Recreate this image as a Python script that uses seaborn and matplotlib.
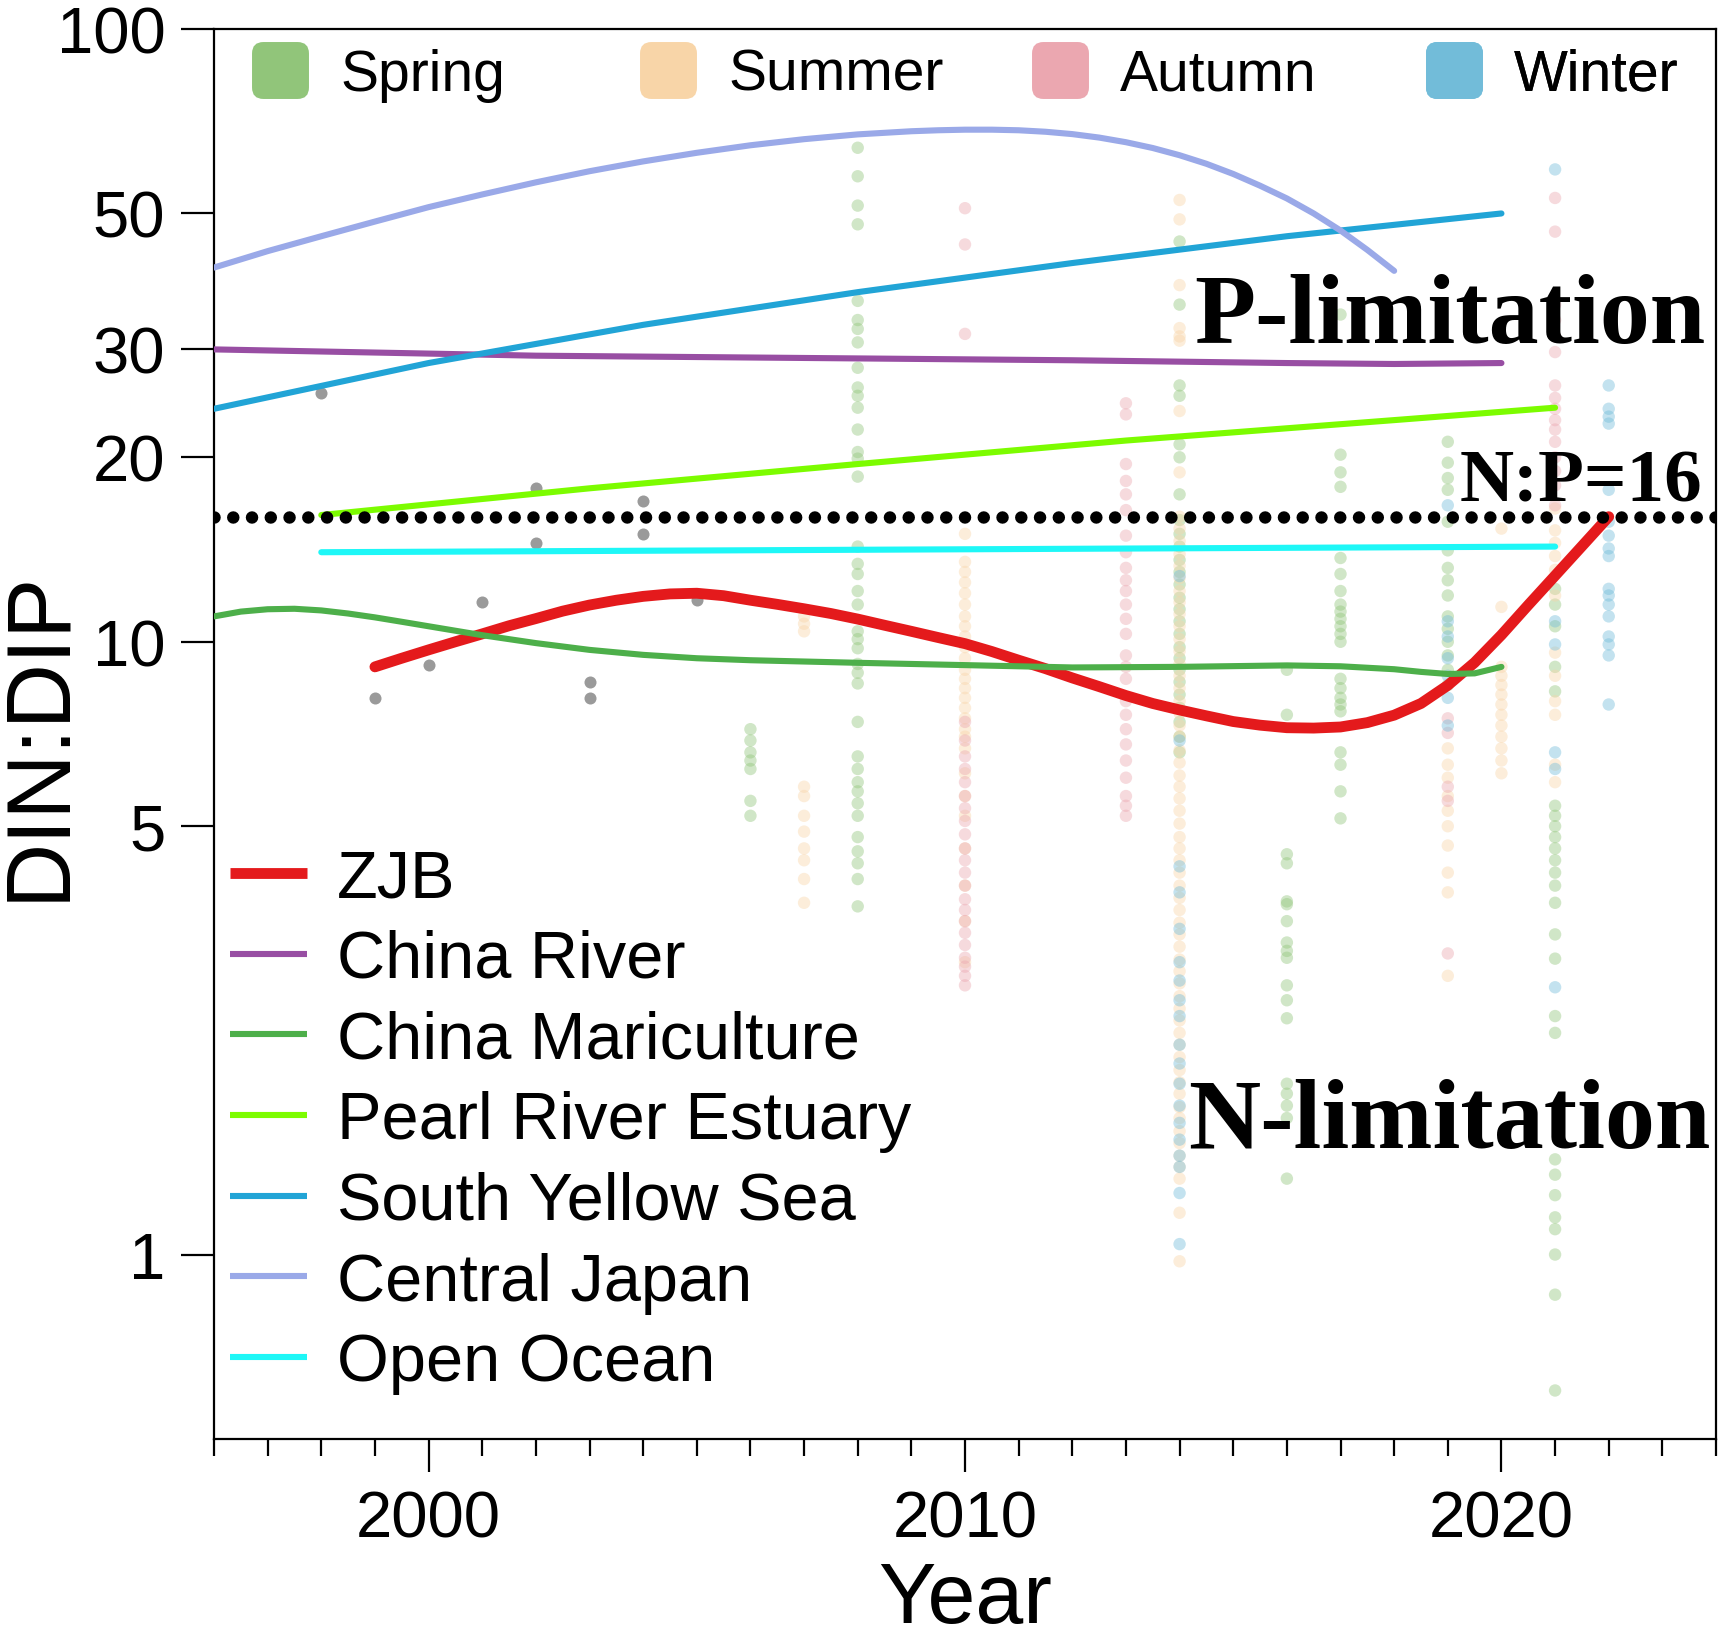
import numpy as np
import pandas as pd
import matplotlib
matplotlib.use("Agg")
import matplotlib.pyplot as plt
import seaborn as sns
from matplotlib.lines import Line2D
from matplotlib.patches import FancyBboxPatch
from matplotlib.ticker import NullLocator

# ---------------- data ----------------
seasons = ["Spring", "Summer", "Autumn", "Winter"]
season_colors = ["#91c57a", "#f8d5a8", "#eba7b0", "#72bcd9"]

spring_pts = {
    2006: [7.2, 6.9, 6.6, 6.4, 6.2, 5.5, 5.2],
    2008: [64, 57.5, 51.5, 48, 36, 33.5, 32.4, 30.8, 28, 26, 25.2, 24.1, 22.2, 20.4, 19.9, 18.6,
           14.3, 13.4, 12.9, 12.1, 11.5, 10.4, 10.1, 9.76, 9.2, 8.9, 8.55, 7.4, 6.5, 6.2, 5.9,
           5.7, 5.45, 5.2, 4.8, 4.55, 4.35, 4.1, 3.7],
    2014: [45, 35.5, 26.2, 25.2, 21, 20, 17.4, 15.8, 15.0, 14.3, 13.6, 13.0, 12.4, 11.8, 11.3,
           10.8, 10.3, 9.8, 9.4, 9.0, 8.6, 8.2, 7.8, 7.4, 7.0, 6.6],
    2016: [9.0, 7.6, 4.5, 4.35, 3.77, 3.73, 3.5, 3.23, 3.13, 3.05, 2.75, 2.6, 2.43, 1.9, 1.83,
           1.75, 1.67, 1.33],
    2017: [34.2, 20.2, 18.9, 17.9, 13.7, 12.9, 12.1, 11.5, 11.2, 10.9, 10.6, 10.3, 10.0, 8.7,
           8.4, 8.1, 7.9, 7.7, 6.6, 6.3, 5.7, 5.15],
    2019: [21.2, 19.6, 18.5, 17.7, 15.7, 14.1, 13.2, 12.6, 11.9, 11.0, 10.5, 10.0, 9.5, 9.0, 8.5],
    2021: [12.2, 11.5, 10.6, 9.1, 8.3, 5.4, 5.2, 5.0, 4.8, 4.6, 4.4, 4.2, 4.0, 3.75, 3.33, 3.04,
           2.45, 2.3, 1.43, 1.35, 1.25, 1.15, 1.1, 1.0, 0.86, 0.6],
}
summer_pts = {
    2007: [11.0, 10.7, 10.4, 5.8, 5.6, 5.2, 4.9, 4.6, 4.4, 4.1, 3.75],
    2010: [15.0, 13.5, 13.0, 12.5, 12.0, 11.5, 11.0, 10.6, 10.2, 9.8, 9.4, 9.0, 8.7, 8.4, 8.1,
           7.8, 7.5, 7.2, 7.0, 6.7, 6.1, 5.6, 5.2, 4.6, 4.0, 3.5, 3.0],
    2014: [52.6, 48.9, 38.2, 32.5, 31.5, 31.0, 23.8, 18.9, 16.0, 15.3, 14.6, 13.9, 13.3, 12.7,
           12.1, 11.6, 11.1, 10.6, 10.1, 9.65, 9.2, 8.8, 8.4, 8.0, 7.65, 7.3, 7.0, 6.65, 6.35,
           6.05, 5.8, 5.55, 5.3, 5.05, 4.8, 4.6, 4.4, 4.2, 4.0, 3.82, 3.65, 3.48, 3.33, 3.18,
           3.03, 2.9, 2.77, 2.64, 2.52, 2.41, 2.3, 2.2, 2.1, 2.0, 1.91, 1.83, 1.74, 1.67, 1.59,
           1.52, 1.45, 1.39, 1.33, 1.17, 0.975],
    2019: [6.7, 6.3, 6.0, 5.6, 5.3, 5.0, 4.65, 4.2, 3.9, 2.85],
    2020: [15.3, 11.4, 9.1, 8.8, 8.5, 8.2, 7.9, 7.6, 7.3, 7.0, 6.7, 6.4, 6.1],
    2021: [16.5, 15.2, 14.5, 13.8, 13.1, 11.9, 9.6, 8.8, 8.0, 7.6, 6.3, 5.9],
}
autumn_pts = {
    2010: [51, 44.5, 31.8, 7.4, 6.9, 6.5, 6.2, 5.9, 5.6, 5.35, 5.1, 4.85, 4.6, 4.4, 4.2, 4.0,
           3.8, 3.65, 3.5, 3.35, 3.2, 3.05, 2.95, 2.85, 2.75],
    2013: [24.5, 23.5, 19.5, 18.3, 17.4, 16.4, 14.9, 14.0, 13.2, 12.6, 12.1, 11.5, 10.9, 10.3,
           9.5, 9.1, 8.7, 8.0, 7.6, 7.2, 6.8, 6.4, 6.0, 5.6, 5.4, 5.2],
    2019: [7.5, 7.1, 5.8, 5.5, 3.1],
    2021: [53, 46.7, 35.5, 33.5, 31.5, 29.7, 26.2, 25.0, 24.0, 23.0, 22.2, 21.2, 20.0, 19.0,
           18.0, 16.7],
}
winter_pts = {
    2014: [12.8, 6.9, 4.3, 3.9, 3.4, 3.0, 2.8, 2.6, 2.45, 2.2, 2.05, 1.9, 1.75, 1.64, 1.54,
           1.45, 1.39, 1.26, 1.04],
    2019: [16.7, 10.8, 10.2, 9.4, 8.8, 8.1, 7.3],
    2021: [59, 10.8, 9.9, 6.6, 6.2, 2.73],
    2022: [26.2, 24, 23.3, 22.7, 17.7, 15.7, 14.9, 14.2, 13.8, 12.2, 11.9, 11.5, 11.0, 10.2,
           9.9, 9.5, 7.9],
}

zjb_obs_year = [1998, 1999, 2000, 2001, 2002, 2002, 2003, 2003, 2004, 2004, 2005]
zjb_obs_val = [25.5, 8.1, 9.15, 11.6, 17.8, 14.5, 8.6, 8.1, 17.0, 15.0, 11.7]

zjb_year = [1999, 1999.5, 2000, 2000.5, 2001, 2001.5, 2002, 2002.5, 2003, 2003.5, 2004, 2004.5,
            2005, 2005.5, 2006, 2006.5, 2007, 2007.5, 2008, 2008.5, 2009, 2009.5, 2010, 2010.5,
            2011, 2011.5, 2012, 2012.5, 2013, 2013.5, 2014, 2014.5, 2015, 2015.5, 2016, 2016.5,
            2017, 2017.5, 2018, 2018.5, 2019, 2019.5, 2020, 2020.5, 2021, 2021.5, 2022]
zjb_val = [9.10, 9.40, 9.70, 10.0, 10.3, 10.62, 10.91, 11.22, 11.48, 11.69, 11.86, 11.97,
           12.0, 11.89, 11.69, 11.51, 11.32, 11.12, 10.89, 10.64, 10.40, 10.16, 9.93, 9.64,
           9.33, 9.04, 8.73, 8.45, 8.17, 7.93, 7.74, 7.57, 7.41, 7.31, 7.24, 7.23,
           7.26, 7.38, 7.59, 7.93, 8.49, 9.25, 10.26, 11.48, 12.82, 14.32, 16.0]

river_year = [1996, 2002, 2008, 2012, 2016, 2018, 2020]
river_val = [30.0, 29.3, 29.0, 28.8, 28.5, 28.4, 28.5]

mari_year = [1996, 1996.5, 1997, 1997.5, 1998, 1998.5, 1999, 1999.5, 2000, 2001, 2002, 2003,
             2004, 2005, 2006, 2008, 2010, 2012, 2014, 2016, 2017, 2018, 2018.5, 2019, 2019.5,
             2020]
mari_val = [11.0, 11.2, 11.3, 11.32, 11.25, 11.12, 10.96, 10.78, 10.6, 10.25, 9.95, 9.7,
            9.52, 9.4, 9.33, 9.24, 9.16, 9.08, 9.1, 9.15, 9.12, 9.02, 8.93, 8.86, 8.88, 9.1]

pearl_year = [1998, 2003, 2008, 2013, 2018, 2021]
pearl_val = [16.1, 17.8, 19.5, 21.3, 23.0, 24.1]

sys_year = [1996, 2000, 2004, 2008, 2012, 2016, 2020]
sys_val = [24.0, 28.5, 32.9, 37.2, 41.5, 45.9, 50.0]

japan_year = [1996, 1997, 1998, 1999, 2000, 2001, 2002, 2003, 2004, 2005, 2006, 2007, 2008,
              2009, 2009.5, 2010, 2010.5, 2011, 2011.5, 2012, 2012.5, 2013, 2013.5, 2014,
              2014.5, 2015, 2015.5, 2016, 2016.5, 2017, 2017.5, 2018]
japan_val = [40.8, 43.4, 45.9, 48.5, 51.2, 53.7, 56.2, 58.6, 60.8, 62.8, 64.6, 66.1, 67.3,
             68.1, 68.35, 68.5, 68.5, 68.35, 67.97, 67.37, 66.5, 65.35, 63.94, 62.23,
             60.26, 58.0, 55.5, 52.9, 50.0, 46.9, 43.6, 40.3]

ocean_year = [1998, 2021]
ocean_val = [14.0, 14.3]

series_names = ["ZJB", "China River", "China Mariculture", "Pearl River Estuary",
                "South Yellow Sea", "Central Japan", "Open Ocean"]
series_colors = ["#e41a1c", "#984ea3", "#4daf4a", "#7cfc00", "#21a4d6", "#9aa9e8", "#1ef7f7"]
series_widths = [7.8, 4.4, 4.4, 4.4, 4.4, 4.4, 4.4]

y_ticks = [1, 5, 10, 20, 30, 50, 100]
x_major = [2000, 2010, 2020]

# ---------------- build tables ----------------
rows = []
for sname, d in zip(seasons, [spring_pts, summer_pts, autumn_pts, winter_pts]):
    for yr, vals in d.items():
        for v in vals:
            rows.append((yr, v, sname))
pts = pd.DataFrame(rows, columns=["Year", "Ratio", "Season"])

series_data = [(zjb_year, zjb_val), (river_year, river_val), (mari_year, mari_val),
               (pearl_year, pearl_val), (sys_year, sys_val), (japan_year, japan_val),
               (ocean_year, ocean_val)]

# ---------------- plot ----------------
sns.set_theme(style="ticks")
plt.rcParams['font.family'] = ['Liberation Sans', 'DejaVu Sans']
plt.rcParams['text.color'] = 'black'
plt.rcParams['axes.labelcolor'] = 'black'
plt.rcParams['xtick.color'] = 'black'
plt.rcParams['ytick.color'] = 'black'

fig = plt.figure(figsize=(17.2, 16.4), dpi=100)
ax = fig.add_axes([0.12442, 0.12195, 0.87326, 0.85976])

sns.scatterplot(data=pts, x="Year", y="Ratio", hue="Season", hue_order=seasons,
                palette=dict(zip(seasons, season_colors)), s=80, alpha=0.42,
                linewidth=0, legend=False, ax=ax, zorder=1)
sns.scatterplot(x=zjb_obs_year, y=zjb_obs_val, color="#9a9a9a", s=75, linewidth=0,
                legend=False, ax=ax, zorder=2)

for (xs, ys), c, lw in zip(series_data, series_colors, series_widths):
    sns.lineplot(x=xs, y=ys, color=c, linewidth=lw, ax=ax, zorder=3, legend=False,
                 errorbar=None)

ax.axhline(16, color="black", lw=9, linestyle=(0, (0.001, 1.5)),
           dash_capstyle="round", zorder=4)

ax.set_yscale("log")
ax.set_ylim(0.5, 100)
ax.set_xlim(1996, 2024)
ax.set_yticks(y_ticks)
ax.set_yticklabels([str(t) for t in y_ticks])
ax.yaxis.set_minor_locator(NullLocator())
ax.set_xticks(x_major)
ax.set_xticklabels([str(t) for t in x_major])
ax.set_xticks(list(range(1996, 2025)), minor=True)

ax.tick_params(axis="both", which="major", length=24, width=1.6, labelsize=47,
               direction="out", color="black", labelcolor="black")
ax.tick_params(axis="y", which="major", pad=11)
ax.tick_params(axis="x", which="major", pad=12)
ax.tick_params(axis="x", which="minor", length=12, width=1.6, direction="out", color="black")
for sp in ax.spines.values():
    sp.set_visible(True)
    sp.set_linewidth(1.6)
    sp.set_color("black")

ax.set_ylabel("DIN:DIP", fontsize=65, color="black")
ax.set_xlabel("Year", fontsize=62, color="black")
ax.yaxis.set_label_coords(-0.0875, 0.5)
ax.xaxis.set_label_coords(0.5, -0.086)

serif = ["Liberation Serif", "DejaVu Serif"]
ax.text(2023.8, 30.8, "P-limitation", ha="right", va="baseline", fontsize=72,
        fontweight="bold", family=serif, color="black", zorder=5)
ax.text(2023.75, 17.0, "N:P=16", ha="right", va="baseline", fontsize=54,
        fontweight="bold", family=serif, color="black", zorder=5)
ax.text(2023.9, 1.5, "N-limitation", ha="right", va="baseline", fontsize=72,
        fontweight="bold", family=serif, color="black", zorder=5)

# bottom-left legend (lines)
line_handles = [Line2D([0], [0], color=c, lw=lw, solid_capstyle="butt")
                for c, lw in zip(series_colors, series_widths)]
leg1 = ax.legend(line_handles, series_names, loc="upper left",
                 bbox_to_anchor=(0.0107, 0.419), frameon=False, fontsize=48,
                 handlelength=1.15, handletextpad=0.45, labelspacing=0.28,
                 borderpad=0, borderaxespad=0)
for t in leg1.get_texts():
    t.set_color("black")
ax.add_artist(leg1)

# top legend (seasons) with rounded squares
rpath = FancyBboxPatch((-0.5, -0.5), 1, 1,
                       boxstyle="round,pad=0,rounding_size=0.2").get_path()
x_anchor = [0.0253, 0.2836, 0.5443, 0.8069]
for sname, c, xa in zip(seasons, season_colors, x_anchor):
    h = Line2D([0], [0], marker=rpath, markersize=41, color=c, lw=0,
               markeredgewidth=0)
    lg = ax.legend([h], [sname], loc="center left", bbox_to_anchor=(xa, 0.9677),
                   frameon=False, fontsize=41, handlelength=1.0, handletextpad=0.55,
                   borderpad=0, borderaxespad=0)
    for t in lg.get_texts():
        t.set_color("black")
    ax.add_artist(lg)

fig.savefig("out.png", dpi=100)
